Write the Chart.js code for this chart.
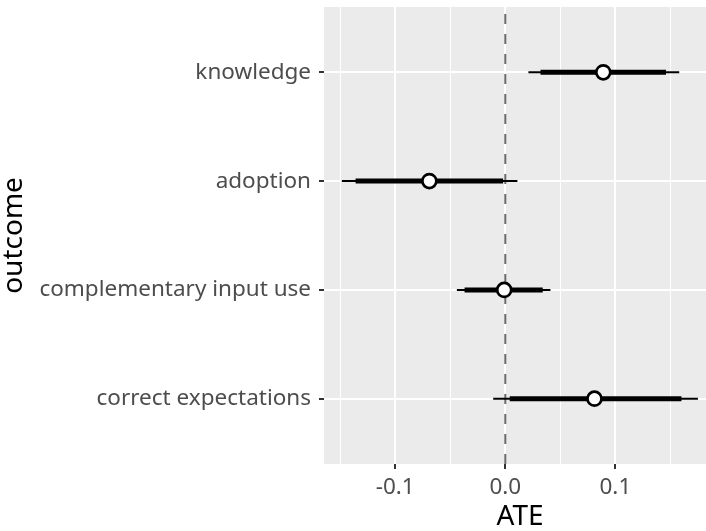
<!DOCTYPE html>
<html><head><meta charset="utf-8">
<style>html,body{margin:0;padding:0;overflow:hidden;background:#fff;width:706px;height:531px}#wrap{width:706px;height:531px;overflow:hidden;position:relative}canvas{display:block}</style>
<script src="https://cdn.jsdelivr.net/npm/chart.js@4"></script>
</head><body><div id="wrap"><canvas id="c" width="716" height="531" style="width:716px;height:531px"></canvas></div>
<script>
const categories = ['knowledge', 'adoption', 'complementary input use', 'correct expectations'];
const estimates  = [0.089, -0.069, -0.001, 0.081];
const thickLow   = [0.032, -0.136, -0.037, 0.004];
const thickHigh  = [0.146, -0.002, 0.034, 0.160];
const thinLow    = [0.021, -0.1485, -0.044, -0.011];
const thinHigh   = [0.158, 0.011, 0.041, 0.175];
const xTicks     = [-0.15, -0.1, -0.05, 0, 0.05, 0.1, 0.15];
const majorTicks = [-0.1, 0, 0.1];
const refLine    = 0;
const xLimits    = [-0.1647, 0.1914];

const n = categories.length;
const yOf = i => n - i;
const isMajor = v => majorTicks.some(m => Math.abs(m - v) < 1e-9);

Chart.defaults.font.family = "'Noto Sans', sans-serif";

const datasets = [];
datasets.push({
  data: estimates.map((v, i) => ({x: v, y: yOf(i)})),
  pointRadius: 7, pointBackgroundColor: '#ffffff', pointBorderColor: '#000000',
  pointBorderWidth: 2.7, showLine: false, order: 0
});
categories.forEach((c, i) => {
  datasets.push({
    data: [{x: thickLow[i], y: yOf(i)}, {x: thickHigh[i], y: yOf(i)}],
    showLine: true, borderColor: '#000', borderWidth: 5, pointRadius: 0,
    borderCapStyle: 'butt', order: 1
  });
  datasets.push({
    data: [{x: thinLow[i], y: yOf(i)}, {x: thinHigh[i], y: yOf(i)}],
    showLine: true, borderColor: '#000', borderWidth: 2, pointRadius: 0,
    borderCapStyle: 'butt', order: 2
  });
});
datasets.push({
  data: [{x: refLine, y: 0.4}, {x: refLine, y: n + 0.6}],
  showLine: true, borderColor: '#6b6b6b', borderWidth: 2, borderDash: [10, 10],
  pointRadius: 0, borderCapStyle: 'butt', order: 3
});

const bgPlugin = {
  id: 'bg',
  beforeDraw(chart) {
    const {ctx, chartArea: a} = chart;
    ctx.save();
    ctx.fillStyle = '#ffffff';
    ctx.fillRect(0, 0, chart.width, chart.height);
    ctx.fillStyle = '#EBEBEB';
    ctx.fillRect(a.left, a.top, a.right - a.left, a.bottom - a.top);
    ctx.restore();
  }
};

new Chart(document.getElementById('c'), {
  type: 'scatter',
  data: {datasets},
  plugins: [bgPlugin],
  options: {
    responsive: false, animation: false, events: [],
    layout: {autoPadding: false, padding: {top: 7, right: 0, left: 0, bottom: 0}},
    plugins: {legend: {display: false}, tooltip: {enabled: false}},
    scales: {
      x: {
        type: 'linear', min: xLimits[0], max: xLimits[1],
        afterBuildTicks: s => { s.ticks = xTicks.map(v => ({value: v})); },
        afterFit: s => { s.height = 67; s.paddingLeft = 0; s.paddingRight = 0; },
        border: {display: false},
        grid: {
          color: '#ffffff',
          lineWidth: ctx => isMajor(ctx.tick.value) ? 2 : 1,
          tickColor: ctx => isMajor(ctx.tick.value) ? '#333333' : 'rgba(0,0,0,0)',
          tickWidth: 2, tickLength: 5, drawTicks: true
        },
        ticks: {
          autoSkip: false, maxRotation: 0, padding: 5, color: '#4D4D4D',
          font: {size: 22.5},
          callback: v => isMajor(v) ? v.toFixed(1) : ''
        },
        title: {display: true, text: 'ATE', color: '#000', font: {size: 28, lineHeight: 1}, padding: {top: 0, bottom: 0}}
      },
      y: {
        type: 'linear', min: 0.4, max: n + 0.6,
        afterBuildTicks: s => { s.ticks = categories.map((c, i) => ({value: yOf(i)})); },
        afterFit: s => { s.width = 324; s.paddingTop = 0; s.paddingBottom = 0; },
        border: {display: false},
        grid: {color: '#ffffff', lineWidth: 2, tickColor: '#333333', tickWidth: 2, tickLength: 5, drawTicks: true},
        ticks: {
          autoSkip: false, padding: 8, color: '#4D4D4D', font: {size: 22.5},
          callback: v => categories[n - Math.round(v)]
        },
        title: {display: true, text: 'outcome', color: '#000', font: {size: 28, lineHeight: 1}, padding: {top: 0, bottom: 0}}
      }
    }
  }
});
</script>
</body></html>
